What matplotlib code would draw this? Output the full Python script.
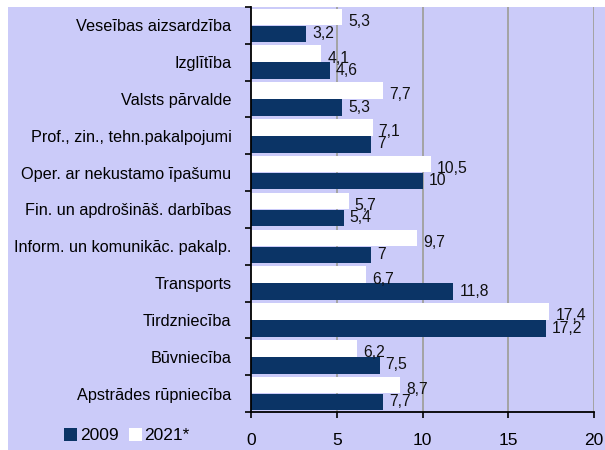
import matplotlib
matplotlib.use("Agg")
import matplotlib.pyplot as plt
import numpy as np
from matplotlib.patches import Rectangle

plt.rcParams['font.family'] = ['Liberation Sans', 'DejaVu Sans']

categories = ["Veseības aizsardzība", "Izglītība", "Valsts pārvalde",
              "Prof., zin., tehn.pakalpojumi", "Oper. ar nekustamo īpašumu",
              "Fin. un apdrošināš. darbības", "Inform. un komunikāc. pakalp.",
              "Transports", "Tirdzniecība", "Būvniecība", "Apstrādes rūpniecība"]
values_2021 = [5.3, 4.1, 7.7, 7.1, 10.5, 5.7, 9.7, 6.7, 17.4, 6.2, 8.7]
values_2009 = [3.2, 4.6, 5.3, 7, 10, 5.4, 7, 11.8, 17.2, 7.5, 7.7]
series_names = ["2009", "2021*"]
xticks = [0, 5, 10, 15, 20]

bg = '#cbcbf9'
navy = '#0b3466'

fig = plt.figure(figsize=(6.05, 4.5), dpi=100, facecolor='white')
fig.patches.append(Rectangle((8/605, 0), 1, 443/450, transform=fig.transFigure,
                             facecolor=bg, edgecolor='none', zorder=-10))

ax = fig.add_axes([251/605, 1 - 412/450, 343/605, 405/450])
ax.set_facecolor(bg)

def fmt(v):
    return ('%g' % v).replace('.', ',')

n = len(categories)
y = np.arange(n)
h = 0.45
b21 = ax.barh(y - 0.23, values_2021, height=h, color='white', label=series_names[1], zorder=3)
b09 = ax.barh(y + 0.23, values_2009, height=h, color=navy, label=series_names[0], zorder=3)

for yi, v in zip(y, values_2021):
    ax.annotate(fmt(v), (v, yi - 0.11), xytext=(4.3, 0), textcoords='offset points',
                va='center', ha='left', fontsize=11.3, color='#111111', zorder=4)
for yi, v in zip(y, values_2009):
    ax.annotate(fmt(v), (v, yi + 0.22), xytext=(4.3, 0), textcoords='offset points',
                va='center', ha='left', fontsize=11.3, color='#111111', zorder=4)

ax.set_xlim(0, 20)
ax.set_ylim(n - 0.5, -0.5)
ax.set_xticks(xticks)
ax.set_xticklabels([str(t) for t in xticks], fontsize=12.5)
ax.set_yticks(y)
ax.set_yticklabels(categories, fontsize=11.7)
ax.set_yticks(np.arange(n + 1) - 0.5, minor=True)
ax.tick_params(axis='y', which='major', length=0, pad=14)
ax.tick_params(axis='y', which='minor', length=4, width=1.2, direction='out')
ax.tick_params(axis='x', which='major', length=4, width=1.2, direction='out', pad=11)

for x in xticks[1:]:
    ax.axvline(x, color='#a3a3a3', lw=1.4, zorder=1)

for s in ['top', 'right']:
    ax.spines[s].set_visible(False)
for s in ['left', 'bottom']:
    ax.spines[s].set_linewidth(1.3)
    ax.spines[s].set_color('black')
    ax.spines[s].set_zorder(5)

leg = fig.legend([b09, b21], series_names, loc='lower left',
                 bbox_to_anchor=(52/605, -0.012), ncol=2, frameon=False,
                 fontsize=12.5, handlelength=0.75, handleheight=0.75,
                 handletextpad=0.15, columnspacing=0.6, borderpad=0.2)

fig.savefig('out.png', dpi=100, facecolor='white')
